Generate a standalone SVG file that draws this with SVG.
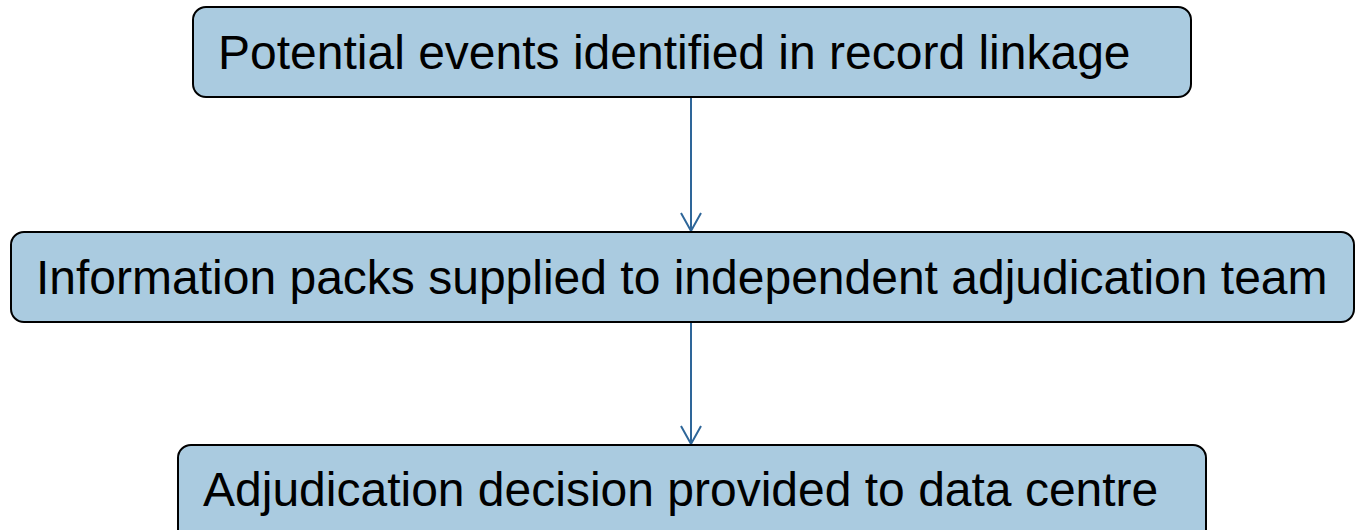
<svg xmlns="http://www.w3.org/2000/svg" width="1355" height="530" viewBox="0 0 1355 530">
<defs>
<style>
.box{fill:#AACBE0;stroke:#000;stroke-width:2}
.lbl{font-family:"Liberation Sans",Arial,sans-serif;font-size:48px;fill:#000}
.con{stroke:#2E6699;stroke-width:2;fill:none}
</style>
<marker id="arr" markerWidth="22" markerHeight="24" refX="19" refY="11" orient="auto" markerUnits="userSpaceOnUse" viewBox="0 0 22 24">
<path d="M1,1 L19,11 L1,21" fill="none" stroke="#2E6699" stroke-width="2"/>
</marker>
</defs>
<rect width="1355" height="530" fill="#fff"/>
<g id="connectors">
<line class="con" x1="691" y1="97" x2="691" y2="231" marker-end="url(#arr)"/>
<line class="con" x1="691" y1="322" x2="691" y2="444" marker-end="url(#arr)"/>
</g>
<g id="n1">
<rect class="box" x="193" y="7" width="998" height="90" rx="13"/>
<text class="lbl" x="218" y="69">Potential events identified in record linkage</text>
</g>
<g id="n2">
<rect class="box" x="11" y="232" width="1343" height="90" rx="13"/>
<text class="lbl" x="36" y="294">Information packs supplied to independent adjudication team</text>
</g>
<g id="n3">
<rect class="box" x="178" y="445" width="1028" height="100" rx="13"/>
<text class="lbl" x="203" y="506">Adjudication decision provided to data centre</text>
</g>
</svg>
